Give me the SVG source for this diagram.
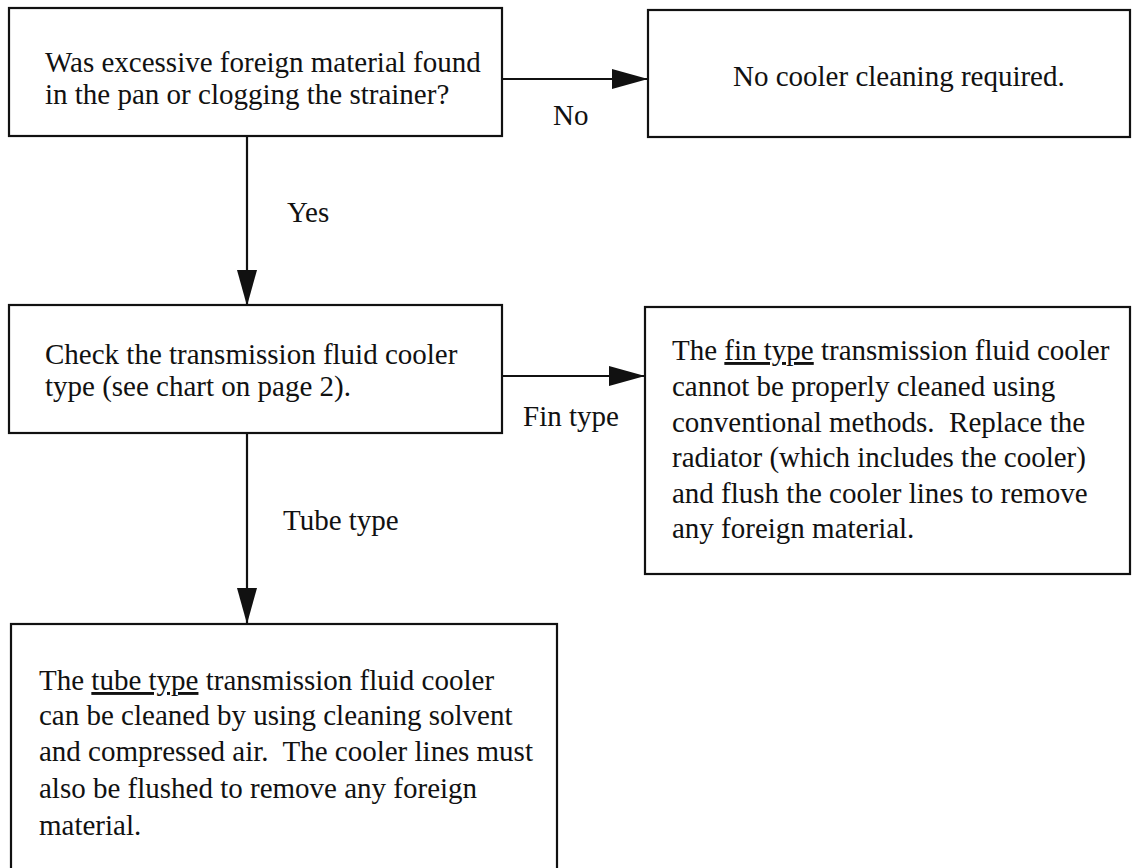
<svg xmlns="http://www.w3.org/2000/svg" width="1134" height="868" viewBox="0 0 1134 868">
<style>
.box{fill:#fff;stroke:#111;stroke-width:2.2}
.t{font-family:"Liberation Serif","Times New Roman",serif;font-size:29px;fill:#111}
.u{text-decoration:underline}
.c{stroke:#111;stroke-width:2.2;fill:none}
.h{fill:#111;stroke:none}
</style>
<defs>
<marker id="ah" markerUnits="userSpaceOnUse" markerWidth="36" markerHeight="20" refX="35" refY="10" orient="auto">
<path d="M0,0 L36,10 L0,20 Z" class="h"/>
</marker>
</defs>
<rect width="1134" height="868" fill="#fff"/>
<g id="connectors">
<line class="c" x1="502" y1="79" x2="647" y2="79" marker-end="url(#ah)"/>
<text class="t" x="553" y="125">No</text>
<line class="c" x1="247" y1="136" x2="247" y2="305" marker-end="url(#ah)"/>
<text class="t" x="287" y="222">Yes</text>
<line class="c" x1="502" y1="376" x2="644" y2="376" marker-end="url(#ah)"/>
<text class="t" x="523" y="426">Fin type</text>
<line class="c" x1="247" y1="433" x2="247" y2="623" marker-end="url(#ah)"/>
<text class="t" x="283" y="530">Tube type</text>
</g>
<g id="n1">
<rect class="box" x="9" y="8" width="493" height="128"/>
<text class="t" x="45" y="72">Was excessive foreign material found</text>
<text class="t" x="45" y="104">in the pan or clogging the strainer?</text>
</g>
<g id="n2">
<rect class="box" x="648" y="10" width="482" height="127"/>
<text class="t" x="733" y="86">No cooler cleaning required.</text>
</g>
<g id="n3">
<rect class="box" x="9" y="305" width="493" height="128"/>
<text class="t" x="45" y="364">Check the transmission fluid cooler</text>
<text class="t" x="45" y="396">type (see chart on page 2).</text>
</g>
<g id="n4">
<rect class="box" x="645" y="307" width="485" height="267"/>
<text class="t" x="672" y="360">The <tspan class="u">fin type</tspan> transmission fluid cooler</text>
<text class="t" x="672" y="396">cannot be properly cleaned using</text>
<text class="t" x="672" y="432">conventional methods.&#160; Replace the</text>
<text class="t" x="672" y="467">radiator (which includes the cooler)</text>
<text class="t" x="672" y="503">and flush the cooler lines to remove</text>
<text class="t" x="672" y="538">any foreign material.</text>
</g>
<g id="n5">
<rect class="box" x="11" y="624" width="546" height="260"/>
<text class="t" x="39" y="690">The <tspan class="u">tube type</tspan> transmission fluid cooler</text>
<text class="t" x="39" y="725">can be cleaned by using cleaning solvent</text>
<text class="t" x="39" y="761">and compressed air.&#160; The cooler lines must</text>
<text class="t" x="39" y="798">also be flushed to remove any foreign</text>
<text class="t" x="39" y="835">material.</text>
</g>
</svg>
